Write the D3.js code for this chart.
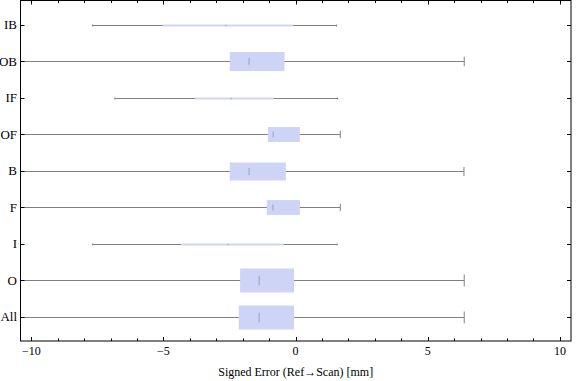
<!DOCTYPE html>
<html>
<head>
<meta charset="utf-8">
<script src="https://cdn.jsdelivr.net/npm/d3@7"></script>
<style>
  body { margin: 0; background: #fff; }
  text { font-family: "Liberation Serif", "DejaVu Serif", serif; fill: #000; }
</style>
</head>
<body>
<svg id="chart"></svg>
<script>
// categories top to bottom
const categories = ["IB", "OB", "IF", "OF", "B", "F", "I", "O", "All"];
// whisker ends, quartiles and median (mm)
const lowWhisker  = [-7.68, -11.5, -6.84, -11.5, -11.5, -11.5, -7.68, -11.5, -11.5];
const q1          = [-5.03, -2.49, -3.80, -1.05, -2.49, -1.09, -4.34, -2.10, -2.15];
const medians     = [-2.64, -1.76, -2.44, -0.85, -1.76, -0.86, -2.55, -1.38, -1.38];
const q3          = [-0.09, -0.42, -0.83,  0.16, -0.37,  0.16, -0.45, -0.06, -0.06];
const highWhisker = [ 1.55,  6.38,  1.59,  1.69,  6.37,  1.69,  1.57,  6.38,  6.38];
// relative box width (sample share)
const weights     = [0.08, 0.79, 0.08, 0.62, 0.75, 0.62, 0.08, 1.0, 1.0];
const majorTicks = [-10, -5, 0, 5, 10];
const minorTicks = d3.range(-10, 11, 1).filter(d => !majorTicks.includes(d));

const w = 576, h = 381;
const pLeft = 20.5, pRight = 571, pTop = 0.5, pBottom = 341;

const svg = d3.select("#chart").attr("width", w).attr("height", h);

const x = d3.scaleLinear().domain([-10.41, 10.42]).range([pLeft, pRight]);
const y = d3.scalePoint().domain(categories).range([pTop, pBottom]).padding(0.66);
const bw = d3.scaleLinear().domain([0, 1]).range([0, 24]);

const data = categories.map((c, i) => ({
  name: c, lo: lowWhisker[i], q1: q1[i], med: medians[i], q3: q3[i], hi: highWhisker[i], wt: weights[i]
}));

svg.append("clipPath").attr("id", "plot")
  .append("rect").attr("x", pLeft).attr("y", pTop).attr("width", pRight - pLeft).attr("height", pBottom - pTop);

const g = svg.append("g").attr("clip-path", "url(#plot)");

let boxes = g.selectAll("g.box")
  .data(data)
  .enter()
  .append("g")
  .attr("class", "box")
  .attr("transform", d => `translate(0,${Math.round(y(d.name)) + 0.5})`);

// whisker line
boxes.append("line")
  .attr("x1", d => x(d.lo)).attr("x2", d => x(d.hi))
  .attr("y1", 0).attr("y2", 0)
  .attr("stroke", "#808080").attr("stroke-width", 1);

// caps
boxes.each(function(d){
  const capH = Math.max(bw(d.wt) / 2, 2);
  [d.lo, d.hi].forEach(v => {
    d3.select(this).append("line")
      .attr("x1", x(v)).attr("x2", x(v))
      .attr("y1", -capH / 2).attr("y2", capH / 2)
      .attr("stroke", "#808080").attr("stroke-width", 1);
  });
});

boxes.append("rect")
  .attr("x", d => x(d.q1))
  .attr("width", d => x(d.q3) - x(d.q1))
  .attr("y", d => -bw(d.wt) / 2)
  .attr("height", d => bw(d.wt))
  .attr("fill", "#cdd4f6");

boxes.append("line")
  .attr("x1", d => x(d.med)).attr("x2", d => x(d.med))
  .attr("y1", d => -Math.max(bw(d.wt) * 0.2, 0.8))
  .attr("y2", d => Math.max(bw(d.wt) * 0.2, 0.8))
  .attr("stroke", "#a4abd2").attr("stroke-width", 1.3);

/* frame */
const axis = svg.append("g").attr("stroke", "#000").attr("stroke-width", 1);
axis.append("rect")
  .attr("x", pLeft).attr("y", pTop).attr("width", pRight - pLeft).attr("height", pBottom - pTop)
  .attr("fill", "none");

// x ticks, bottom and top, pointing inward
const xt = majorTicks.map(v => ({v, len: 4})).concat(minorTicks.map(v => ({v, len: 2.5})));
axis.selectAll("line.xb").data(xt).enter().append("line")
  .attr("x1", d => Math.round(x(d.v)) + 0.5).attr("x2", d => Math.round(x(d.v)) + 0.5)
  .attr("y1", pBottom).attr("y2", d => pBottom - d.len);
axis.selectAll("line.xt").data(xt).enter().append("line")
  .attr("x1", d => Math.round(x(d.v)) + 0.5).attr("x2", d => Math.round(x(d.v)) + 0.5)
  .attr("y1", pTop).attr("y2", d => pTop + d.len);

// y ticks left and right
axis.selectAll("line.yl").data(categories).enter().append("line")
  .attr("x1", pLeft).attr("x2", pLeft + 4)
  .attr("y1", d => Math.round(y(d)) + 0.5).attr("y2", d => Math.round(y(d)) + 0.5);
axis.selectAll("line.yr").data(categories).enter().append("line")
  .attr("x1", pRight).attr("x2", pRight - 4)
  .attr("y1", d => Math.round(y(d)) + 0.5).attr("y2", d => Math.round(y(d)) + 0.5);

svg.selectAll("text.xl").data(majorTicks).enter().append("text")
  .attr("class", "xl")
  .attr("x", d => x(d)).attr("y", 355)
  .attr("text-anchor", "middle")
  .attr("font-size", 12)
  .text(d => d < 0 ? "\u2212" + Math.abs(d) : d);

svg.selectAll("text.yl").data(categories).enter().append("text")
  .attr("class", "yl")
  .attr("x", 17).attr("y", d => y(d) + 4.5)
  .attr("text-anchor", "end")
  .attr("font-size", 13)
  .text(d => d);

svg.append("text")
  .attr("x", 295.7).attr("y", 376)
  .attr("text-anchor", "middle")
  .attr("font-size", 12)
  .text("Signed Error (Ref\u2192Scan) [mm]");
</script>
</body>
</html>
